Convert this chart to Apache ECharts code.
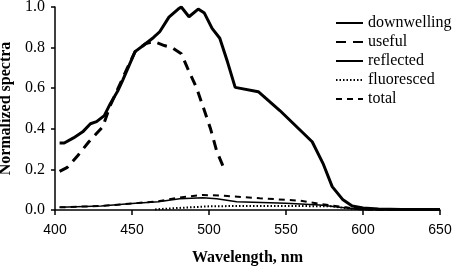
<!DOCTYPE html>
<html>
<head>
<meta charset="utf-8">
<script src="https://cdn.jsdelivr.net/npm/echarts@6/dist/echarts.min.js"></script>
<style>
  html, body { margin: 0; padding: 0; background: #fff; }
  #main { width: 454px; height: 268px; }
</style>
</head>
<body>
<div id="main"></div>
<script>
// values
var downWl  = [403,406,412,418,423,427,432,436,441,444,448,452,459,464,468,474,480,482,487,493,497,502,507,512,517,532,546,567,574,580,587,593,600,610,625,650];
var downVal = [0.33,0.33,0.355,0.385,0.425,0.435,0.465,0.525,0.59,0.64,0.71,0.78,0.82,0.85,0.878,0.95,0.99,1.0,0.952,0.99,0.97,0.895,0.846,0.73,0.604,0.583,0.49,0.336,0.23,0.115,0.05,0.02,0.01,0.005,0.003,0.003];

var usefulWl  = [403,408,415,422,431,436,441,447,452,459,464,471,476,482,486,492,497,501,505,510];
var usefulVal = [0.19,0.21,0.27,0.336,0.41,0.517,0.6,0.7,0.78,0.82,0.83,0.81,0.8,0.77,0.7,0.6,0.49,0.4,0.29,0.2];

var reflWl  = [403,430,450,467,481,496,505,518,550,572,585,598,650];
var reflVal = [0.013,0.02,0.032,0.041,0.055,0.06,0.055,0.041,0.033,0.025,0.013,0.003,0.0];

var fluoWl  = [465,480,500,520,550,580,590,600,650];
var fluoVal = [0.003,0.01,0.018,0.02,0.02,0.018,0.008,0.002,0.0];

var totalWl  = [403,430,450,467,481,496,510,533,559,572,589,600,650];
var totalVal = [0.013,0.02,0.032,0.043,0.062,0.074,0.07,0.058,0.046,0.03,0.013,0.002,0.0];

function pairs(xs, ys) {
    return xs.map(function (x, i) { return [x, ys[i]]; });
}

var myChart = echarts.init(document.getElementById('main'));

myChart.setOption({
    animation: false,
    grid: { left: 55, right: 14, top: 7, bottom: 58, containLabel: false, outerBoundsMode: 'none' },
    legend: {
        orient: 'vertical',
        left: 330,
        top: 10,
        itemWidth: 27,
        itemHeight: 10,
        itemGap: 3,
        itemStyle: { opacity: 0 },
        textStyle: { fontFamily: 'Liberation Serif', fontSize: 16, color: '#000' },
        data: ['downwelling', 'useful', 'reflected', 'fluoresced', 'total']
    },
    xAxis: {
        type: 'value',
        min: 400, max: 650, interval: 50,
        name: 'Wavelength, nm',
        nameLocation: 'middle',
        nameGap: 40,
        nameTextStyle: { fontFamily: 'Liberation Serif', fontWeight: 'bold', fontSize: 16, color: '#000' },
        axisLine: { lineStyle: { color: '#000', width: 1.5 } },
        axisTick: { length: 5, lineStyle: { color: '#000', width: 1.5 } },
        axisLabel: { fontFamily: 'Liberation Sans', fontSize: 14, color: '#000', margin: 13 },
        splitLine: { show: false }
    },
    yAxis: {
        type: 'value',
        min: 0, max: 1, interval: 0.2,
        name: 'Normalized spectra',
        nameLocation: 'middle',
        nameGap: 40,
        nameRotate: 90,
        nameTextStyle: { fontFamily: 'Liberation Serif', fontWeight: 'bold', fontSize: 16, color: '#000' },
        axisLine: { show: true, lineStyle: { color: '#000', width: 1.5 } },
        axisTick: { show: true, length: 4, lineStyle: { color: '#000', width: 1.5 } },
        axisLabel: {
            fontFamily: 'Liberation Serif', fontSize: 16, color: '#000', margin: 10,
            formatter: function (v) { return v.toFixed(1); }
        },
        splitLine: { show: false }
    },
    series: [
        {
            name: 'downwelling', type: 'line', symbol: 'none',
            itemStyle: { color: '#000' },
            lineStyle: { color: '#000', width: 3 },
            data: pairs(downWl, downVal)
        },
        {
            name: 'useful', type: 'line', symbol: 'none',
            itemStyle: { color: '#000' },
            lineStyle: { color: '#000', width: 3, type: [10, 7] },
            data: pairs(usefulWl, usefulVal)
        },
        {
            name: 'reflected', type: 'line', symbol: 'none',
            itemStyle: { color: '#000' },
            lineStyle: { color: '#000', width: 1.5 },
            data: pairs(reflWl, reflVal)
        },
        {
            name: 'fluoresced', type: 'line', symbol: 'none',
            itemStyle: { color: '#000' },
            lineStyle: { color: '#000', width: 2, type: [1.5, 2] },
            data: pairs(fluoWl, fluoVal)
        },
        {
            name: 'total', type: 'line', symbol: 'none',
            itemStyle: { color: '#000' },
            lineStyle: { color: '#000', width: 2, type: [6, 5] },
            data: pairs(totalWl, totalVal)
        }
    ]
});
</script>
</body>
</html>
